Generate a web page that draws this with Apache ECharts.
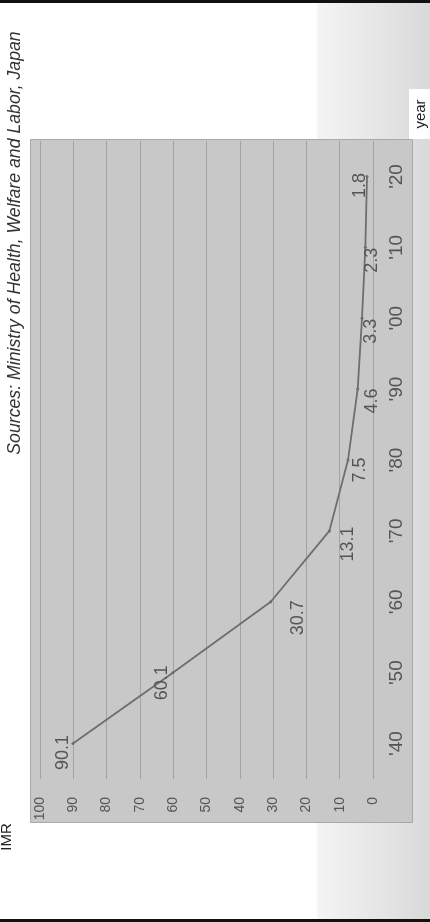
<!DOCTYPE html>
<html>
<head>
<meta charset="utf-8">
<title>Infant mortality rate, Japan</title>
<script src="https://cdn.jsdelivr.net/npm/echarts@6/dist/echarts.min.js"></script>
<style>
  html, body { margin: 0; padding: 0; background: #ffffff; }
  #chart { width: 430px; height: 922px; }
</style>
</head>
<body>
<div id="chart"></div>
<script>
// Infant mortality rate (per 1,000 live births), by decade
const years = ["'40", "'50", "'60", "'70", "'80", "'90", "'00", "'10", "'20"];
const imr = [90.1, 60.1, 30.7, 13.1, 7.5, 4.6, 3.3, 2.3, 1.8];
const imrMin = 0;
const imrMax = 100;
const imrStep = 10;

// Where each value label sits relative to its point, on screen [dx, dy]
const labelShift = [[-10, 9], [-11, 10], [27, 16], [19, 13], [12, 10], [14, 12], [9, 13], [7, 13], [-7, 9]];

const FONT = "'Liberation Sans', Arial, Helvetica, sans-serif";
const chart = echarts.init(document.getElementById('chart'), null, { renderer: 'canvas' });

// Labels are rotated by 90deg, so the offset vector is turned with them
function toLabelOffset(s) { return [-s[1], s[0]]; }

chart.setOption({
  animation: false,
  backgroundColor: '#ffffff',
  grid: { left: 40, width: 333, top: 141, height: 638, containLabel: false },
  xAxis: {
    type: 'value',
    min: imrMin,
    max: imrMax,
    interval: imrStep,
    inverse: true,
    position: 'bottom',
    axisLine: { show: false },
    axisTick: { show: false },
    splitLine: { show: true, lineStyle: { color: '#a3a3a3', width: 1 } },
    axisLabel: { rotate: 90, margin: 18, fontSize: 14, color: '#555555', fontFamily: FONT }
  },
  yAxis: {
    type: 'category',
    data: years,
    boundaryGap: true,
    position: 'right',
    axisLine: { show: false },
    axisTick: { show: false },
    splitLine: { show: false },
    axisLabel: { rotate: 90, margin: 14, fontSize: 19, color: '#555555', fontFamily: FONT }
  },
  series: [{
    type: 'line',
    data: imr.map((v, i) => ({
      value: v,
      label: { offset: toLabelOffset(labelShift[i]) }
    })),
    symbol: 'circle',
    symbolSize: 3,
    showSymbol: true,
    lineStyle: { color: '#6e6e6e', width: 1.8 },
    itemStyle: { color: '#6e6e6e' },
    label: {
      show: true,
      position: 'inside',
      rotate: 90,
      fontSize: 18,
      color: '#555555',
      fontFamily: FONT,
      formatter: p => p.value.toFixed(1)
    },
    z: 5
  }],
  graphic: [
    {
      type: 'rect', z: -30, silent: true,
      shape: { x: 316, y: 0, width: 114, height: 922 },
      style: {
        fill: new echarts.graphic.LinearGradient(0, 0, 1, 0, [
          { offset: 0, color: '#ffffff' },
          { offset: 0.02, color: '#f4f4f4' },
          { offset: 1, color: '#d9d9d9' }
        ])
      }
    },
    {
      type: 'rect', z: -20, silent: true,
      shape: { x: 30.5, y: 139.5, width: 382, height: 683 },
      style: { fill: '#c8c8c8', stroke: '#a9a9a9', lineWidth: 1 }
    },
    {
      type: 'rect', z: 10, silent: true,
      shape: { x: 409, y: 89, width: 21, height: 50 },
      style: { fill: '#ffffff' }
    },
    {
      type: 'text', z: 11, silent: true,
      x: 421, y: 114, rotation: Math.PI / 2,
      style: { text: 'year', fontSize: 15, fill: '#222222', fontFamily: FONT, align: 'center', verticalAlign: 'middle' }
    },
    {
      type: 'text', z: 11, silent: true,
      x: 7, y: 837, rotation: Math.PI / 2,
      style: { text: 'IMR', fontSize: 15, fill: '#222222', fontFamily: FONT, align: 'center', verticalAlign: 'middle' }
    },
    {
      type: 'text', z: 11, silent: true,
      x: 15, y: 243, rotation: Math.PI / 2,
      style: {
        text: 'Sources: Ministry of Health, Welfare and Labor, Japan',
        fontSize: 17.7, fontStyle: 'italic', fill: '#333333', fontFamily: FONT,
        align: 'center', verticalAlign: 'middle'
      }
    },
    {
      type: 'rect', z: 12, silent: true,
      shape: { x: 0, y: 0, width: 430, height: 3 },
      style: { fill: '#111111' }
    },
    {
      type: 'rect', z: 12, silent: true,
      shape: { x: 0, y: 919, width: 430, height: 3 },
      style: { fill: '#111111' }
    }
  ]
});
</script>
</body>
</html>
